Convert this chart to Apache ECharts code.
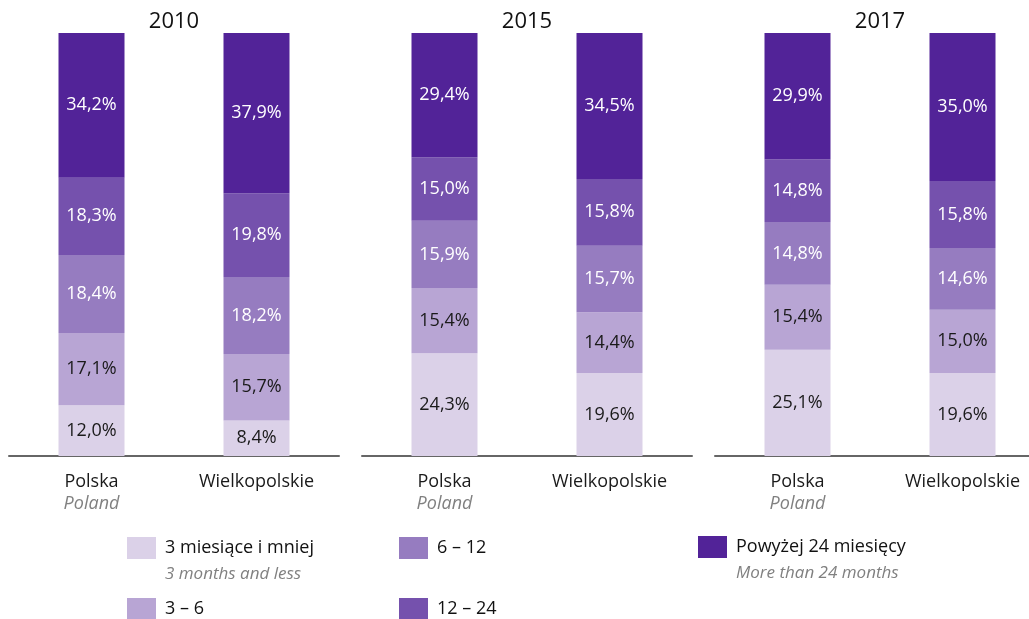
<!DOCTYPE html>
<html lang="pl">
<head>
    <meta charset="UTF-8">
    <title>Bezrobotni wg czasu pozostawania bez pracy</title>
    <script src="https://cdn.jsdelivr.net/npm/echarts@6/dist/echarts.min.js"></script>
    <style>
        html, body { margin: 0; padding: 0; background: #fff; }
        #chart { width: 1029px; height: 619px; }
    </style>
</head>
<body>
    <div id="chart"></div>
    <script>
        // dane
        var years = ['2010', '2015', '2017'];
        var regions = ['Polska', 'Wielkopolskie'];
        var regionsEn = ['Poland', ''];
        var groups = ['3 miesiące i mniej', '3 – 6', '6 – 12', '12 – 24', 'Powyżej 24 miesięcy'];
        var groupsEn = ['3 months and less', '', '', '', 'More than 24 months'];
        // values[rok][grupa] = [Polska, Wielkopolskie]
        var values2010 = [[12.0, 8.4], [17.1, 15.7], [18.4, 18.2], [18.3, 19.8], [34.2, 37.9]];
        var values2015 = [[24.3, 19.6], [15.4, 14.4], [15.9, 15.7], [15.0, 15.8], [29.4, 34.5]];
        var values2017 = [[25.1, 19.6], [15.4, 15.0], [14.8, 14.6], [14.8, 15.8], [29.9, 35.0]];
        var allValues = [values2010, values2015, values2017];

        var colors = ['#DBD1E8', '#B8A5D4', '#967CC0', '#7551AD', '#522398'];
        var labelColors = ['#1a1a1a', '#1a1a1a', '#fff', '#fff', '#fff'];
        var font = '"Open Sans", "Noto Sans", sans-serif';

        var gridLeft = [9, 362, 715];
        var gridWidth = 330;

        var chart = echarts.init(document.getElementById('chart'));

        var grids = [], xAxes = [], yAxes = [], series = [], titles = [];
        years.forEach(function (y, i) {
            grids.push({ left: gridLeft[i], width: gridWidth, top: 33, height: 423, outerBoundsMode: 'none' });
            xAxes.push({
                type: 'category',
                gridIndex: i,
                data: regions,
                axisLine: { lineStyle: { color: '#666', width: 2 } },
                axisTick: { show: false },
                axisLabel: {
                    margin: 15,
                    lineHeight: 22,
                    color: '#1a1a1a',
                    fontFamily: font,
                    fontSize: 18,
                    formatter: function (v, idx) {
                        var en = regionsEn[idx];
                        return en ? v + '\n{it|' + en + '}' : v + '\n ';
                    },
                    rich: {
                        it: { fontStyle: 'italic', color: '#808080', fontSize: 18, fontFamily: font, lineHeight: 22 }
                    }
                }
            });
            yAxes.push({ type: 'value', gridIndex: i, min: 0, max: 100, show: false });
            titles.push({
                text: y,
                left: gridLeft[i] + gridWidth / 2,
                top: 11,
                padding: 0,
                textAlign: 'center',
                textStyle: { fontFamily: font, fontSize: 22, fontWeight: 'normal', color: '#111' }
            });
            groups.forEach(function (g, k) {
                series.push({
                    name: g,
                    type: 'bar',
                    stack: 'y' + y,
                    xAxisIndex: i,
                    yAxisIndex: i,
                    barWidth: 66,
                    data: allValues[i][k],
                    itemStyle: { color: colors[k] },
                    label: {
                        show: true,
                        position: 'inside',
                        color: labelColors[k],
                        fontFamily: font,
                        fontSize: 18,
                        formatter: function (p) {
                            return p.value.toFixed(1).replace('.', ',') + '%';
                        }
                    }
                });
            });
        });

        // legenda - każdy element osobno, bo układ jest w kolumnach
        var legendPos = [[127, 537], [127, 598], [399, 537], [399, 598], [698, 536]];
        var legends = groups.map(function (g, k) {
            return {
                data: [g],
                left: legendPos[k][0],
                top: legendPos[k][1],
                padding: 0,
                itemWidth: 29,
                itemHeight: 22,
                itemGap: 0,
                icon: 'rect',
                selectedMode: false,
                textStyle: { fontFamily: font, fontSize: 18, color: '#111', padding: [2, 0, 0, 4] }
            };
        });

        var graphics = [];
        groupsEn.forEach(function (t, k) {
            if (!t) return;
            graphics.push({
                type: 'text',
                left: legendPos[k][0] + 38,
                top: legendPos[k][1] + 29,
                style: { text: t, font: 'italic 17px ' + font, fill: '#808080' }
            });
        });

        chart.setOption({
            animation: false,
            title: titles,
            legend: legends,
            grid: grids,
            xAxis: xAxes,
            yAxis: yAxes,
            series: series,
            graphic: graphics
        });
    </script>
</body>
</html>
